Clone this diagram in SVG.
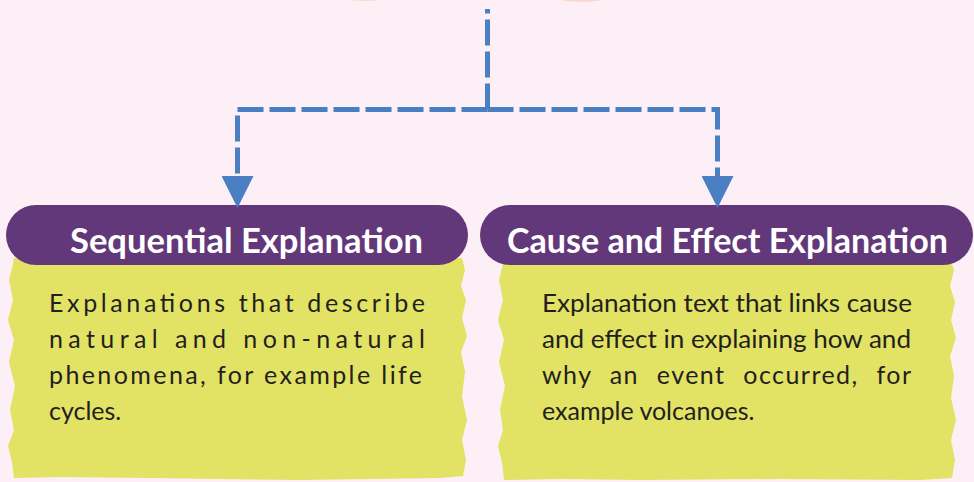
<svg xmlns="http://www.w3.org/2000/svg" width="974" height="482" viewBox="0 0 974 482">
  <style>
    .bg { fill: #FCEFF6; }
    .paper { fill: #E2E264; }
    .pill { fill: #62387A; }
    .title { font-family: Lato, "Open Sans", sans-serif; font-weight: bold; font-size: 35px; fill: #FFFFFF; }
    .body { font-family: Lato, "Open Sans", sans-serif; font-size: 25px; fill: #231F20; }
    .dash { fill: none; stroke: #4A7FC1; stroke-width: 5; stroke-dasharray: 26 6; }
  </style>
  <defs>
    <marker id="arrow" markerUnits="userSpaceOnUse" markerWidth="32" markerHeight="32" refX="4" refY="16" orient="auto">
      <path d="M0,0 L32,16 L0,32 z" fill="#4A7FC1"/>
    </marker>
  </defs>
  <rect class="bg" x="0" y="0" width="974" height="482"/>
  <g id="top-remnant">
    <ellipse cx="365" cy="-4" rx="26" ry="5" fill="#F9D9C6"/>
    <ellipse cx="582" cy="-3" rx="26" ry="5" fill="#F9D9C6"/>
  </g>

  <g id="node-sequential">
    <path class="paper" d="M14,258 L462,258 L465,270 L461,286 L466,300 L462,318 L467,336 L461,352 L465,372 L462,396 L467,420 L462,440 L466,460 L463,476 L440,478 L300,480 L150,478 L60,477 L14,478 L12,462 L8,446 L14,430 L10,410 L15,386 L9,362 L14,340 L8,320 L13,300 L9,280 L13,264 Z"/>
    <rect class="pill" x="6" y="205" width="462" height="60" rx="30" ry="30"/>
    <text class="title" x="70" y="253" textLength="353" lengthAdjust="spacingAndGlyphs">Sequential Explanation</text>
    <text class="body" x="49" y="312" textLength="376" lengthAdjust="spacing">Explanations that describe</text>
    <text class="body" x="49" y="348" textLength="376" lengthAdjust="spacing">natural and non-natural</text>
    <text class="body" x="49" y="384" textLength="373" lengthAdjust="spacing">phenomena, for example life</text>
    <text class="body" x="49" y="420">cycles.</text>
  </g>

  <g id="node-cause-effect">
    <path class="paper" d="M506,258 L950,258 L954,270 L950,286 L955,302 L951,320 L956,338 L950,356 L954,376 L951,398 L956,420 L951,440 L955,460 L952,478 L920,480 L780,479 L640,480 L560,479 L504,480 L502,462 L498,446 L503,430 L500,410 L505,386 L499,362 L504,340 L498,320 L503,300 L499,280 L503,264 Z"/>
    <rect class="pill" x="480" y="205" width="493" height="60" rx="30" ry="30"/>
    <text class="title" x="507" y="253" textLength="441" lengthAdjust="spacingAndGlyphs">Cause and Effect Explanation</text>
    <text class="body" x="542" y="312" textLength="370" lengthAdjust="spacingAndGlyphs">Explanation text that links cause</text>
    <text class="body" x="542" y="348" textLength="369" lengthAdjust="spacingAndGlyphs">and effect in explaining how and</text>
    <text class="body" x="542" y="384" textLength="369" lengthAdjust="spacing" word-spacing="10">why an event occurred, for</text>
    <text class="body" x="542" y="420">example volcanoes.</text>
  </g>

  <g id="connectors">
    <path class="dash" d="M487.5,109.5 V9"/>
    <path class="dash" d="M487.5,109.5 H237.5 V180" marker-end="url(#arrow)"/>
    <path class="dash" d="M487.5,109.5 H717.5 V180" marker-end="url(#arrow)"/>
  </g>
</svg>
